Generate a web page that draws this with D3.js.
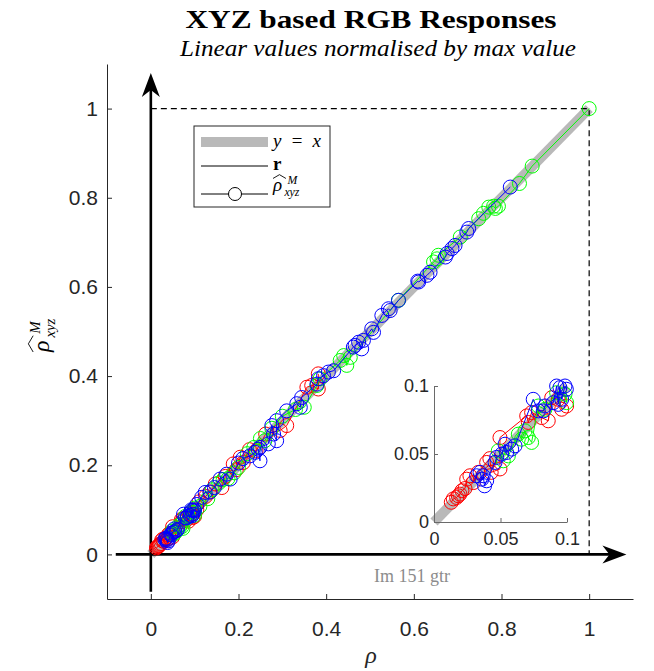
<!DOCTYPE html>
<html>
<head>
<meta charset="utf-8">
<script src="https://cdn.jsdelivr.net/npm/d3@7"></script>
<style>
  body { margin: 0; background: #fff; }
</style>
</head>
<body>
<div id="chart"></div>
<script>
var svgWidth = 654;
var svgHeight = 671;

// tick values
var mainTicks = [0, 0.2, 0.4, 0.6, 0.8, 1];
var insetTicks = [0, 0.05, 0.1];

// [rho, rho_hat] pairs per channel
var redPoints = [
    [0.013, 0.0145], [0.0145, 0.017], [0.017, 0.018], [0.0183, 0.0193], [0.0195, 0.0205],
    [0.021, 0.023], [0.0233, 0.0246], [0.0246, 0.0315], [0.027, 0.034], [0.0296, 0.029],
    [0.0333, 0.0365], [0.0396, 0.0438], [0.042, 0.0466], [0.043, 0.0365], [0.0496, 0.039],
    [0.0496, 0.0621], [0.0697, 0.078], [0.0709, 0.0732], [0.0734, 0.0805], [0.081, 0.0768],
    [0.0859, 0.0744], [0.0885, 0.0914], [0.0934, 0.0902], [0.096, 0.0829], [0.0997, 0.0853],
    [0.105, 0.1], [0.11, 0.118], [0.125, 0.13], [0.135, 0.14], [0.147, 0.158], [0.162, 0.15],
    [0.17, 0.175], [0.188, 0.203], [0.195, 0.19], [0.204, 0.218], [0.211, 0.206], [0.225, 0.235],
    [0.24, 0.232], [0.262, 0.27], [0.295, 0.278], [0.31, 0.289], [0.356, 0.375], [0.367, 0.379],
    [0.382, 0.371], [0.382, 0.405]
];

var greenPoints = [
    [0.0483, 0.0523], [0.0521, 0.045], [0.0559, 0.0486], [0.0634, 0.0646], [0.0659, 0.0609],
    [0.0684, 0.067], [0.0709, 0.0621], [0.0734, 0.0585], [0.0784, 0.0853], [0.0834, 0.0829],
    [0.0922, 0.0951], [0.0985, 0.0939], [0.0997, 0.0878],
    [0.1, 0.104], [0.112, 0.108], [0.13, 0.125], [0.14, 0.145], [0.155, 0.16], [0.165, 0.168],
    [0.176, 0.17], [0.19, 0.183], [0.2, 0.195], [0.22, 0.226], [0.235, 0.24], [0.25, 0.26],
    [0.26, 0.255], [0.276, 0.283], [0.3, 0.31], [0.33, 0.325], [0.35, 0.33], [0.379, 0.379],
    [0.386, 0.394], [0.432, 0.435], [0.44, 0.446], [0.447, 0.424], [0.455, 0.442], [0.565, 0.57],
    [0.645, 0.656], [0.653, 0.663], [0.656, 0.671], [0.706, 0.712], [0.748, 0.753], [0.759, 0.765],
    [0.771, 0.779], [0.782, 0.781], [0.786, 0.776], [0.793, 0.781], [0.841, 0.832], [0.87, 0.871],
    [1, 1]
];

var bluePoints = [
    [0.032, 0.034], [0.0346, 0.0365], [0.036, 0.0315], [0.037, 0.034], [0.038, 0.0266],
    [0.0396, 0.0303], [0.0459, 0.0438], [0.0471, 0.0475], [0.0509, 0.0499], [0.0534, 0.0572],
    [0.0546, 0.0511], [0.0584, 0.0536], [0.0609, 0.056], [0.0746, 0.0902], [0.0784, 0.0817],
    [0.0822, 0.0817], [0.0834, 0.0853], [0.0897, 0.0877], [0.0922, 0.1], [0.0934, 0.0865],
    [0.0947, 0.0988], [0.096, 0.0902], [0.0985, 0.1], [0.0995, 0.0976],
    [0.105, 0.112], [0.116, 0.128], [0.124, 0.139], [0.135, 0.14], [0.145, 0.15], [0.158, 0.169],
    [0.173, 0.18], [0.181, 0.169], [0.2, 0.205], [0.21, 0.215], [0.226, 0.221], [0.238, 0.229],
    [0.245, 0.236], [0.249, 0.21], [0.249, 0.24], [0.268, 0.248], [0.276, 0.289], [0.28, 0.27],
    [0.287, 0.255], [0.287, 0.3], [0.31, 0.322], [0.333, 0.338], [0.341, 0.33], [0.344, 0.352],
    [0.379, 0.382], [0.382, 0.394], [0.394, 0.401], [0.405, 0.409], [0.417, 0.412], [0.462, 0.465],
    [0.466, 0.469], [0.474, 0.476], [0.481, 0.461], [0.485, 0.48], [0.504, 0.506], [0.508, 0.498],
    [0.527, 0.536], [0.542, 0.551], [0.546, 0.547], [0.565, 0.57], [0.609, 0.613], [0.611, 0.611],
    [0.63, 0.626], [0.637, 0.633], [0.672, 0.667], [0.676, 0.675], [0.687, 0.686], [0.694, 0.693],
    [0.721, 0.723], [0.725, 0.731], [0.82, 0.824]
];

var series = [
    { pts: redPoints, color: "#ff0000" },
    { pts: greenPoints, color: "#00ff00" },
    { pts: bluePoints, color: "#0000ff" }
];

var serif = "'Liberation Serif', 'DejaVu Serif', serif";
var sans = "'Liberation Sans', Arial, sans-serif";
var axisColor = "#262626";
var grayLine = "#b9b9b9";

var svg = d3.select("#chart")
    .append("svg")
    .attr("width", svgWidth)
    .attr("height", svgHeight);

var x = d3.scaleLinear().domain([-0.1, 1.1]).range([107, 633]);
var y = d3.scaleLinear().domain([-0.1, 1.1]).range([599, 64]);
var fmt = d3.format("~g");

// main axes (box off, inward ticks)
var xAxis = svg.append("g")
    .attr("transform", "translate(0,599)")
    .call(d3.axisBottom(x).tickValues(mainTicks).tickFormat(fmt)
        .tickSizeInner(-5).tickSizeOuter(0).tickPadding(22));
var yAxis = svg.append("g")
    .attr("transform", "translate(107,0)")
    .call(d3.axisLeft(y).tickValues(mainTicks).tickFormat(fmt)
        .tickSizeInner(-5).tickSizeOuter(0).tickPadding(9));
[xAxis, yAxis].forEach(function (a) {
    a.selectAll("path, line").attr("stroke", axisColor).attr("stroke-width", 1);
    a.selectAll("text").attr("fill", axisColor).style("font-family", sans).style("font-size", "21px");
});

// y = x reference
svg.append("line")
    .attr("x1", x(0)).attr("y1", y(0)).attr("x2", x(1)).attr("y2", y(1))
    .attr("stroke", grayLine).attr("stroke-width", 10);

// dashed guides at 1
svg.append("path")
    .attr("d", "M" + x(0) + "," + y(1) + "H" + x(1) + "V" + y(0))
    .attr("fill", "none").attr("stroke", "#000").attr("stroke-width", 1.2)
    .attr("stroke-dasharray", "6,4");

// arrows
function arrow(x1, y1, x2, y2) {
    var ang = Math.atan2(y2 - y1, x2 - x1) * 180 / Math.PI;
    var len = Math.hypot(x2 - x1, y2 - y1);
    var g = svg.append("g").attr("transform", "translate(" + x1 + "," + y1 + ") rotate(" + ang + ")");
    g.append("line").attr("x1", 0).attr("y1", 0).attr("x2", len - 16).attr("y2", 0)
        .attr("stroke", "#000").attr("stroke-width", 2.6);
    g.append("path")
        .attr("d", "M" + len + ",0 L" + (len - 24) + ",-9 L" + (len - 17) + ",0 L" + (len - 24) + ",9Z")
        .attr("fill", "#000");
}
arrow(x(-0.08), y(0), x(1.085), y(0));
arrow(x(0), y(-0.084), x(0), y(1.08));

function drawSeries(g, xs, ys, clipId) {
    series.forEach(function (s) {
        var sorted = s.pts.slice().sort(function (a, b) { return a[0] - b[0]; });
        var line = d3.line().x(function (d) { return xs(d[0]); }).y(function (d) { return ys(d[1]); });
        var path = g.append("path").datum(sorted).attr("d", line)
            .attr("fill", "none").attr("stroke", s.color).attr("stroke-width", 1);
        if (clipId) path.attr("clip-path", "url(#" + clipId + ")");
        var shown = sorted.filter(function (d) {
            return xs.domain()[0] <= d[0] && d[0] <= xs.domain()[1] && ys.domain()[0] <= d[1] && d[1] <= ys.domain()[1];
        });
        g.selectAll(null).data(shown).enter().append("circle")
            .attr("cx", function (d) { return xs(d[0]); })
            .attr("cy", function (d) { return ys(d[1]); })
            .attr("r", 7)
            .attr("fill", "none").attr("stroke", s.color).attr("stroke-width", 1);
    });
}
drawSeries(svg.append("g"), x, y, null);

// rho hat with M superscript and xyz subscript, drawn at baseline (0,0)
function rhoHat(g, size) {
    g.append("text").attr("x", 0).attr("y", 0)
        .style("font-family", serif).style("font-style", "italic").style("font-size", size + "px")
        .attr("fill", "#000").text("ρ");
    g.append("path")
        .attr("d", "M" + (0.0 * size) + "," + (-0.66 * size) + " L" + (0.34 * size) + "," + (-0.86 * size) + " L" + (0.68 * size) + "," + (-0.66 * size))
        .attr("fill", "none").attr("stroke", "#000").attr("stroke-width", 0.9);
    g.append("text").attr("x", 0.76 * size).attr("y", -0.36 * size)
        .style("font-family", serif).style("font-style", "italic").style("font-size", (0.62 * size) + "px")
        .attr("fill", "#000").text("M");
    g.append("text").attr("x", 0.6 * size).attr("y", 0.26 * size)
        .style("font-family", serif).style("font-style", "italic").style("font-size", (0.62 * size) + "px")
        .attr("fill", "#000").text("xyz");
}

// legend
var legend = svg.append("g");
legend.append("rect").attr("x", 194).attr("y", 126).attr("width", 136).attr("height", 81)
    .attr("fill", "#fff").attr("stroke", axisColor).attr("stroke-width", 1);
legend.append("line").attr("x1", 201).attr("x2", 268).attr("y1", 142).attr("y2", 142)
    .attr("stroke", grayLine).attr("stroke-width", 10);
legend.append("text").attr("x", 273).attr("y", 147)
    .attr("textLength", 48).attr("lengthAdjust", "spacing")
    .style("font-family", serif).style("font-style", "italic").style("font-size", "19px")
    .attr("fill", "#000").text("y = x");
legend.append("line").attr("x1", 201).attr("x2", 268).attr("y1", 166).attr("y2", 166)
    .attr("stroke", "#000").attr("stroke-width", 1);
legend.append("text").attr("x", 273).attr("y", 170)
    .style("font-family", serif).style("font-weight", "bold").style("font-size", "19px")
    .attr("fill", "#000").text("r");
legend.append("line").attr("x1", 201).attr("x2", 268).attr("y1", 194).attr("y2", 194)
    .attr("stroke", "#000").attr("stroke-width", 1);
legend.append("circle").attr("cx", 235).attr("cy", 194).attr("r", 6.5)
    .attr("fill", "#fff").attr("stroke", "#000").attr("stroke-width", 1);
rhoHat(legend.append("g").attr("transform", "translate(273,191)"), 19);

// inset axes
var xi = d3.scaleLinear().domain([0, 0.1]).range([434, 567]);
var yi = d3.scaleLinear().domain([0, 0.1]).range([522, 386]);
var inset = svg.append("g");
inset.append("rect").attr("x", 434).attr("y", 386).attr("width", 133).attr("height", 136).attr("fill", "#fff");
svg.append("clipPath").attr("id", "insetClip")
    .append("rect").attr("x", 434).attr("y", 386).attr("width", 133).attr("height", 136);
inset.append("line")
    .attr("x1", xi(0)).attr("y1", yi(0)).attr("x2", xi(0.1)).attr("y2", yi(0.1))
    .attr("stroke", grayLine).attr("stroke-width", 10);
var xiAxis = inset.append("g")
    .attr("transform", "translate(0,522)")
    .call(d3.axisBottom(xi).tickValues(insetTicks).tickFormat(fmt)
        .tickSizeInner(-4).tickSizeOuter(0).tickPadding(10));
var yiAxis = inset.append("g")
    .attr("transform", "translate(434,0)")
    .call(d3.axisLeft(yi).tickValues(insetTicks).tickFormat(fmt)
        .tickSizeInner(-4).tickSizeOuter(0).tickPadding(5));
[xiAxis, yiAxis].forEach(function (a) {
    a.selectAll("path, line").attr("stroke", "#6a6a6a").attr("stroke-width", 1);
    a.selectAll("text").attr("fill", axisColor).style("font-family", sans).style("font-size", "18px");
});
drawSeries(inset.append("g"), xi, yi, "insetClip");

// titles and labels
svg.append("text").attr("x", 371).attr("y", 28).attr("text-anchor", "middle")
    .attr("textLength", 371).attr("lengthAdjust", "spacingAndGlyphs")
    .style("font-family", serif).style("font-weight", "bold").style("font-size", "26px")
    .attr("fill", "#000").text("XYZ based RGB Responses");
svg.append("text").attr("x", 378).attr("y", 56).attr("text-anchor", "middle")
    .attr("textLength", 396).attr("lengthAdjust", "spacingAndGlyphs")
    .style("font-family", serif).style("font-style", "italic").style("font-size", "23px")
    .attr("fill", "#000").text("Linear values normalised by max value");

svg.append("text").attr("x", 412).attr("y", 582).attr("text-anchor", "middle")
    .style("font-family", serif).style("font-size", "18px")
    .attr("fill", "#8c8c8c").text("Im 151 gtr");

svg.append("text").attr("x", 371).attr("y", 663).attr("text-anchor", "middle")
    .style("font-family", serif).style("font-style", "italic").style("font-size", "24px")
    .attr("fill", axisColor).text("ρ");

rhoHat(svg.append("g").attr("transform", "translate(49,352) rotate(-90)"), 24);
</script>
</body>
</html>
